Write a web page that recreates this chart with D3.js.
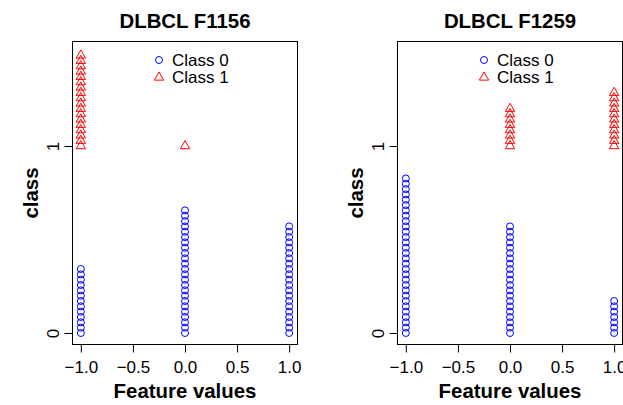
<!DOCTYPE html>
<html>
<head>
<meta charset="utf-8">
<script src="https://cdn.jsdelivr.net/npm/d3@7"></script>
<style>
  body { margin: 0; background: #fff; }
  svg text { font-family: "Liberation Sans", Arial, Helvetica, sans-serif; }
</style>
</head>
<body>
<div id="chart"></div>
<script>
// Chart data
var panelTitles = ["DLBCL F1156", "DLBCL F1259"];
var featureValues = [-1, 0, 1];
// number of samples at each feature value, per panel
var class0Counts = [[13, 24, 21], [30, 21, 7]];
var class1Counts = [[18, 1, 0], [0, 8, 11]];
var xTicks = [-1, -0.5, 0, 0.5, 1];
var yTicks = [0, 1];
var legendLabels = ["Class 0", "Class 1"];

// SVG size
var svgWidth = 623;
var svgHeight = 405;

// plot box of each panel
var boxLefts = [72.5, 397.5];
var boxWidth = 225;
var boxTop = 41.5;
var boxBottom = 344.5;
var stackStep = 0.0285;   // vertical offset between stacked points
var r = 3.5;

var svg = d3.select("#chart")
  .append("svg")
  .attr("width", svgWidth)
  .attr("height", svgHeight);

// triangle like R's pch = 2
function trianglePath(cx, cy) {
  return "M" + cx + "," + (cy - 1.555 * r) +
    "L" + (cx + 1.347 * r) + "," + (cy + 0.7776 * r) +
    "L" + (cx - 1.347 * r) + "," + (cy + 0.7776 * r) + "Z";
}

// turn counts into stacked points
function stackPoints(counts, cls) {
  var pts = [];
  counts.forEach(function(n, i) {
    for (var k = 0; k < n; k++) {
      pts.push({x: featureValues[i], y: cls + k * stackStep});
    }
  });
  return pts;
}

panelTitles.forEach(function(title, p) {
  var left = boxLefts[p];
  var center = left + boxWidth / 2;

  var xScale = d3.scaleLinear()
    .domain([-1.08, 1.08])
    .range([left, left + boxWidth]);

  var yScale = d3.scaleLinear()
    .domain([-0.0615, 1.5588])
    .range([boxBottom, boxTop]);

  var g = svg.append("g");

  // x axis
  var xAxis = g.append("g")
    .attr("transform", "translate(0," + boxBottom + ")")
    .call(d3.axisBottom(xScale).tickValues(xTicks).tickSize(8).tickFormat(d3.format(".1f")));
  xAxis.select(".domain").remove();
  xAxis.selectAll("text")
    .attr("y", 28.5)
    .attr("dy", null)
    .attr("font-size", "17px")
    .attr("fill", "#000");

  // y axis
  var yAxis = g.append("g")
    .attr("transform", "translate(" + left + ",0)")
    .call(d3.axisLeft(yScale).tickValues(yTicks).tickSize(8).tickFormat(d3.format("d")));
  yAxis.select(".domain").remove();
  yAxis.selectAll("text")
    .attr("transform", "rotate(-90)")
    .attr("x", 0)
    .attr("y", -14)
    .attr("dy", null)
    .attr("text-anchor", "middle")
    .attr("font-size", "17px")
    .attr("fill", "#000");

  // box
  g.append("rect")
    .attr("x", left)
    .attr("y", boxTop)
    .attr("width", boxWidth)
    .attr("height", boxBottom - boxTop)
    .attr("fill", "none")
    .attr("stroke", "#000")
    .attr("stroke-width", 1);

  // title
  g.append("text")
    .attr("x", center)
    .attr("y", 28)
    .attr("text-anchor", "middle")
    .attr("font-size", "20.4px")
    .attr("font-weight", "bold")
    .text(title);

  // axis labels
  g.append("text")
    .attr("x", center)
    .attr("y", 398)
    .attr("text-anchor", "middle")
    .attr("font-size", "20.4px")
    .attr("font-weight", "bold")
    .text("Feature values");

  g.append("text")
    .attr("transform", "translate(" + (left - 35) + "," + ((boxTop + boxBottom) / 2) + ") rotate(-90)")
    .attr("text-anchor", "middle")
    .attr("font-size", "20.4px")
    .attr("font-weight", "bold")
    .text("class");

  // class 0 circles
  g.selectAll(".c0")
    .data(stackPoints(class0Counts[p], 0))
    .enter()
    .append("circle")
    .attr("class", "c0")
    .attr("cx", d => xScale(d.x))
    .attr("cy", d => yScale(d.y))
    .attr("r", r)
    .attr("fill", "none")
    .attr("stroke", "#0000ff")
    .attr("stroke-width", 1);

  // class 1 triangles
  g.selectAll(".c1")
    .data(stackPoints(class1Counts[p], 1))
    .enter()
    .append("path")
    .attr("class", "c1")
    .attr("d", d => trianglePath(xScale(d.x), yScale(d.y)))
    .attr("fill", "none")
    .attr("stroke", "#ff0000")
    .attr("stroke-width", 1);

  // legend
  var legendY = [60, 77.4];
  g.append("circle")
    .attr("cx", center - 26)
    .attr("cy", legendY[0])
    .attr("r", r)
    .attr("fill", "none")
    .attr("stroke", "#0000ff");
  g.append("path")
    .attr("d", trianglePath(center - 26, legendY[1]))
    .attr("fill", "none")
    .attr("stroke", "#ff0000");
  legendLabels.forEach(function(lab, i) {
    g.append("text")
      .attr("x", center - 13)
      .attr("y", legendY[i] + 6)
      .attr("font-size", "17px")
      .text(lab);
  });
});
</script>
</body>
</html>
